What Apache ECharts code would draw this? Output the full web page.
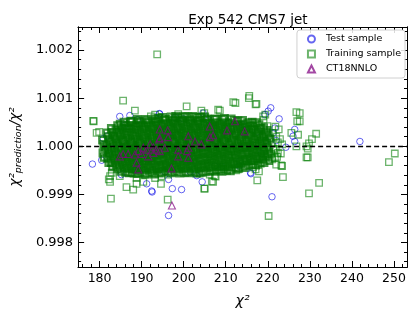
<!DOCTYPE html>
<html>
<head>
<meta charset="utf-8">
<script src="https://cdn.jsdelivr.net/npm/echarts@6/dist/echarts.min.js"></script>
<style>html,body{margin:0;padding:0;background:#fff}#c{width:420px;height:315px}</style>
</head>
<body>
<div id="c"></div>
<script>
var titleText = 'Exp 542 CMS7 jet';
var seriesNames = ['Test sample', 'Training sample', 'CT18NNLO'];
var xTicks = [180, 190, 200, 210, 220, 230, 240, 250];
var xMinor = [176, 178, 182, 184, 186, 188, 192, 194, 196, 198, 202, 204, 206, 208, 212, 214, 216, 218, 222, 224, 226, 228, 232, 234, 236, 238, 242, 244, 246, 248, 252];
var yTicks = [0.998, 0.999, 1.000, 1.001, 1.002];
var yMinor = [0.9976, 0.9978, 0.9982, 0.9984, 0.9986, 0.9988, 0.9992, 0.9994, 0.9996, 0.9998, 1.0002, 1.0004, 1.0006, 1.0008, 1.0012, 1.0014, 1.0016, 1.0018, 1.0022, 1.0024];
var xRange = [174.9, 253.1];
var yRange = [0.99749, 1.00248];
var refLine = 1.0;

var testSample = [
[184.8,1.00062],[187.2,1.00064],[194.3,1.00067],[178.3,0.99963],[180.5,0.99971],[180.9,1.00016],[185.2,0.99941],[191.2,0.99922],[192.5,0.99905],[197.3,0.99912],[199.5,0.99910],[204.4,0.99926],[201.5,0.99947],[202.7,0.99943],[207.4,0.99959],[213.3,0.99969],[213.2,0.99959],[216.0,0.99943],[221.0,0.99895],[220.7,1.00080],[220.1,1.00073],[222.7,1.00057],[221.7,1.00038],[221.3,1.00028],[226.4,1.00035],[226.0,1.00021],[226.4,1.00010],[219.3,1.00066],[199.9,1.00057],[204.6,1.00069],[186.0,1.00044],[181.7,1.00021],[196.4,0.99856],[192.4,0.99907],[241.9,1.00010],[215.9,0.99945],[203.1,0.99939],[196.4,0.99931],[194.2,1.00068],
[189.0,1.00055],[198.0,1.00060],[206.0,1.00055],[210.5,1.00050],[214.0,1.00045],[217.5,1.00030],[218.5,0.99985],[188.5,0.99950],[195.5,0.99947],[209.0,0.99958],[183.5,0.99995],[182.0,0.99985],[222.0,1.00012],[224.3,0.99998],[219.5,1.00012]
];

// dense core of the training sample
var trainingCore = [
[181.1,0.99977],[180.8,0.99986],[181.3,0.99995],[181.0,1.00004],[180.7,1.00013],
[182.2,0.99966],[181.9,0.99975],[182.3,0.99984],[182.0,0.99993],[181.7,1.00002],[182.4,1.00011],[182.1,1.00020],[181.8,1.00028],
[183.1,0.99957],[182.8,0.99966],[183.3,0.99975],[183.0,0.99984],[182.7,0.99993],[183.2,1.00002],[182.9,1.00011],[183.4,1.00020],[183.0,1.00029],[182.8,1.00037],
[184.2,0.99953],[183.9,0.99962],[184.3,0.99971],[184.0,0.99980],[183.7,0.99989],[184.4,0.99998],[184.1,1.00007],[183.8,1.00016],[184.2,1.00025],[183.9,1.00034],[184.3,1.00043],
[185.1,0.99948],[184.8,0.99957],[185.3,0.99966],[185.0,0.99975],[184.7,0.99984],[185.2,0.99993],[184.9,1.00002],[185.4,1.00011],[185.0,1.00020],[184.8,1.00029],[185.2,1.00038],[184.9,1.00046],
[186.2,0.99946],[185.9,0.99955],[186.3,0.99964],[186.0,0.99973],[185.7,0.99982],[186.4,0.99991],[186.1,1.00000],[185.8,1.00009],[186.2,1.00018],[185.9,1.00027],[186.3,1.00036],[186.0,1.00044],[185.8,1.00050],
[187.1,0.99945],[186.8,0.99954],[187.3,0.99963],[187.0,0.99972],[186.7,0.99981],[187.2,0.99990],[186.9,0.99999],[187.4,1.00008],[187.0,1.00017],[186.8,1.00026],[187.2,1.00035],[186.9,1.00043],[187.3,1.00051],
[188.2,0.99944],[187.9,0.99953],[188.3,0.99962],[188.0,0.99971],[187.7,0.99980],[188.4,0.99989],[188.1,0.99998],[187.8,1.00007],[188.2,1.00016],[187.9,1.00025],[188.3,1.00034],[188.0,1.00043],[187.7,1.00052],
[189.1,0.99943],[188.8,0.99952],[189.3,0.99961],[189.0,0.99970],[188.7,0.99979],[189.2,0.99988],[188.9,0.99997],[189.4,1.00006],[189.0,1.00015],[188.8,1.00024],[189.2,1.00033],[188.9,1.00042],[189.3,1.00050],[189.0,1.00056],
[190.2,0.99945],[189.9,0.99954],[190.3,0.99963],[190.0,0.99972],[189.7,0.99981],[190.4,0.99990],[190.1,0.99999],[189.8,1.00008],[190.2,1.00017],[189.9,1.00026],[190.3,1.00035],[190.0,1.00044],[189.7,1.00053],
[191.1,0.99942],[190.8,0.99951],[191.3,0.99960],[191.0,0.99969],[190.7,0.99978],[191.2,0.99987],[190.9,0.99996],[191.4,1.00005],[191.0,1.00014],[190.8,1.00023],[191.2,1.00032],[190.9,1.00041],[191.3,1.00049],[191.0,1.00056],
[192.2,0.99945],[191.9,0.99954],[192.3,0.99963],[192.0,0.99972],[191.7,0.99981],[192.4,0.99990],[192.1,0.99999],[191.8,1.00008],[192.2,1.00017],[191.9,1.00026],[192.3,1.00035],[192.0,1.00044],[191.7,1.00053],
[193.1,0.99942],[192.8,0.99951],[193.3,0.99960],[193.0,0.99969],[192.7,0.99978],[193.2,0.99987],[192.9,0.99996],[193.4,1.00005],[193.0,1.00014],[192.8,1.00023],[193.2,1.00032],[192.9,1.00041],[193.3,1.00050],[193.0,1.00057],
[194.2,0.99944],[193.9,0.99953],[194.3,0.99962],[194.0,0.99971],[193.7,0.99980],[194.4,0.99989],[194.1,0.99998],[193.8,1.00007],[194.2,1.00016],[193.9,1.00025],[194.3,1.00034],[194.0,1.00043],[193.7,1.00052],[194.1,1.00058],
[195.1,0.99946],[194.8,0.99955],[195.3,0.99964],[195.0,0.99973],[194.7,0.99982],[195.2,0.99991],[194.9,1.00000],[195.4,1.00009],[195.0,1.00018],[194.8,1.00027],[195.2,1.00036],[194.9,1.00045],[195.3,1.00054],[195.0,1.00060],
[196.2,0.99948],[195.9,0.99957],[196.3,0.99966],[196.0,0.99975],[195.7,0.99984],[196.4,0.99993],[196.1,1.00002],[195.8,1.00011],[196.2,1.00020],[195.9,1.00029],[196.3,1.00038],[196.0,1.00047],[195.7,1.00056],
[197.1,0.99945],[196.8,0.99954],[197.3,0.99963],[197.0,0.99972],[196.7,0.99981],[197.2,0.99990],[196.9,0.99999],[197.4,1.00008],[197.0,1.00017],[196.8,1.00026],[197.2,1.00035],[196.9,1.00044],[197.3,1.00053],[197.0,1.00061],
[198.2,0.99947],[197.9,0.99956],[198.3,0.99965],[198.0,0.99974],[197.7,0.99983],[198.4,0.99992],[198.1,1.00001],[197.8,1.00010],[198.2,1.00019],[197.9,1.00028],[198.3,1.00037],[198.0,1.00046],[197.7,1.00055],[198.1,1.00062],
[199.1,0.99944],[198.8,0.99953],[199.3,0.99962],[199.0,0.99971],[198.7,0.99980],[199.2,0.99989],[198.9,0.99998],[199.4,1.00007],[199.0,1.00016],[198.8,1.00025],[199.2,1.00034],[198.9,1.00043],[199.3,1.00052],[199.0,1.00060],
[200.2,0.99946],[199.9,0.99955],[200.3,0.99964],[200.0,0.99973],[199.7,0.99982],[200.4,0.99991],[200.1,1.00000],[199.8,1.00009],[200.2,1.00018],[199.9,1.00027],[200.3,1.00036],[200.0,1.00045],[199.7,1.00054],[200.1,1.00062],
[201.1,0.99945],[200.8,0.99954],[201.3,0.99963],[201.0,0.99972],[200.7,0.99981],[201.2,0.99990],[200.9,0.99999],[201.4,1.00008],[201.0,1.00017],[200.8,1.00026],[201.2,1.00035],[200.9,1.00044],[201.3,1.00053],[201.0,1.00061],
[202.2,0.99947],[201.9,0.99956],[202.3,0.99965],[202.0,0.99974],[201.7,0.99983],[202.4,0.99992],[202.1,1.00001],[201.8,1.00010],[202.2,1.00019],[201.9,1.00028],[202.3,1.00037],[202.0,1.00046],[201.7,1.00055],[202.1,1.00062],
[203.1,0.99944],[202.8,0.99953],[203.3,0.99962],[203.0,0.99971],[202.7,0.99980],[203.2,0.99989],[202.9,0.99998],[203.4,1.00007],[203.0,1.00016],[202.8,1.00025],[203.2,1.00034],[202.9,1.00043],[203.3,1.00052],[203.0,1.00060],
[204.2,0.99946],[203.9,0.99955],[204.3,0.99964],[204.0,0.99973],[203.7,0.99982],[204.4,0.99991],[204.1,1.00000],[203.8,1.00009],[204.2,1.00018],[203.9,1.00027],[204.3,1.00036],[204.0,1.00045],[203.7,1.00054],[204.1,1.00061],
[205.1,0.99947],[204.8,0.99956],[205.3,0.99965],[205.0,0.99974],[204.7,0.99983],[205.2,0.99992],[204.9,1.00001],[205.4,1.00010],[205.0,1.00019],[204.8,1.00028],[205.2,1.00037],[204.9,1.00046],[205.3,1.00055],[205.0,1.00061],
[206.2,0.99949],[205.9,0.99958],[206.3,0.99967],[206.0,0.99976],[205.7,0.99985],[206.4,0.99994],[206.1,1.00003],[205.8,1.00012],[206.2,1.00021],[205.9,1.00030],[206.3,1.00039],[206.0,1.00048],[205.7,1.00057],
[207.1,0.99948],[206.8,0.99957],[207.3,0.99966],[207.0,0.99975],[206.7,0.99984],[207.2,0.99993],[206.9,1.00002],[207.4,1.00011],[207.0,1.00020],[206.8,1.00029],[207.2,1.00038],[206.9,1.00047],[207.3,1.00056],
[208.2,0.99950],[207.9,0.99959],[208.3,0.99968],[208.0,0.99977],[207.7,0.99986],[208.4,0.99995],[208.1,1.00004],[207.8,1.00013],[208.2,1.00022],[207.9,1.00031],[208.3,1.00040],[208.0,1.00049],[207.7,1.00057],
[209.1,0.99948],[208.8,0.99957],[209.3,0.99966],[209.0,0.99975],[208.7,0.99984],[209.2,0.99993],[208.9,1.00002],[209.4,1.00011],[209.0,1.00020],[208.8,1.00029],[209.2,1.00038],[208.9,1.00047],[209.3,1.00056],
[210.2,0.99950],[209.9,0.99959],[210.3,0.99968],[210.0,0.99977],[209.7,0.99986],[210.4,0.99995],[210.1,1.00004],[209.8,1.00013],[210.2,1.00022],[209.9,1.00031],[210.3,1.00040],[210.0,1.00049],[209.7,1.00058],
[211.1,0.99949],[210.8,0.99958],[211.3,0.99967],[211.0,0.99976],[210.7,0.99985],[211.2,0.99994],[210.9,1.00003],[211.4,1.00012],[211.0,1.00021],[210.8,1.00030],[211.2,1.00039],[210.9,1.00048],[211.3,1.00057],
[212.2,0.99955],[211.9,0.99964],[212.3,0.99973],[212.0,0.99982],[211.7,0.99991],[212.4,1.00000],[212.1,1.00009],[211.8,1.00018],[212.2,1.00027],[211.9,1.00036],[212.3,1.00045],[212.0,1.00054],
[213.1,0.99954],[212.8,0.99963],[213.3,0.99972],[213.0,0.99981],[212.7,0.99990],[213.2,0.99999],[212.9,1.00008],[213.4,1.00017],[213.0,1.00026],[212.8,1.00035],[213.2,1.00044],[212.9,1.00053],
[214.2,0.99956],[213.9,0.99965],[214.3,0.99974],[214.0,0.99983],[213.7,0.99992],[214.4,1.00001],[214.1,1.00010],[213.8,1.00019],[214.2,1.00028],[213.9,1.00037],[214.3,1.00046],[214.0,1.00054],
[215.1,0.99960],[214.8,0.99969],[215.3,0.99978],[215.0,0.99987],[214.7,0.99996],[215.2,1.00005],[214.9,1.00014],[215.4,1.00023],[215.0,1.00032],[214.8,1.00041],[215.2,1.00049],
[216.2,0.99962],[215.9,0.99971],[216.3,0.99980],[216.0,0.99989],[215.7,0.99998],[216.4,1.00007],[216.1,1.00016],[215.8,1.00025],[216.2,1.00034],[215.9,1.00043],[216.3,1.00050],
[217.1,0.99961],[216.8,0.99970],[217.3,0.99979],[217.0,0.99988],[216.7,0.99997],[217.2,1.00006],[216.9,1.00015],[217.4,1.00024],[217.0,1.00033],[216.8,1.00042],[217.2,1.00049],
[218.2,0.99965],[217.9,0.99974],[218.3,0.99983],[218.0,0.99992],[217.7,1.00001],[218.4,1.00010],[218.1,1.00019],[217.8,1.00028],[218.2,1.00037],[217.9,1.00045],
[219.1,0.99966],[218.8,0.99975],[219.3,0.99984],[219.0,0.99993],[218.7,1.00002],[219.2,1.00011],[218.9,1.00020],[219.4,1.00029],[219.0,1.00038],
[220.2,0.99970],[219.9,0.99979],[220.3,0.99988],[220.0,0.99997],[219.7,1.00006],[220.4,1.00015],[220.1,1.00024],[219.8,1.00033]
];

// scattered training points around the core
var trainingOuter = [
[221.1,0.99973],[220.8,0.99984],[221.3,0.99995],[221.0,1.00006],[220.7,1.00017],[221.2,1.00028],
[222.2,0.99978],[221.9,0.99992],[222.4,1.00008],[222.0,1.00020],
[223.1,0.99985],[223.4,1.00004],[222.9,1.00015],
[185.6,1.00095],[188.4,1.00074],[178.5,1.00053],[179.3,1.00028],[179.9,1.00030],[182.5,0.99938],[182.5,0.99926],[182.7,0.99891],[186.4,0.99915],[188.0,0.99910],[196.2,0.99889],[194.6,0.99922],[200.7,1.00083],[204.9,1.00069],[208.6,1.00074],[211.8,1.00092],[215.5,1.00100],[217.3,1.00088],[218.9,1.00062],[219.9,1.00042],
[226.8,1.00071],[227.6,1.00069],[227.6,1.00052],[225.6,1.00028],[227.2,1.00024],[229.2,1.00000],[229.2,0.99977],[226.8,1.00000],[221.7,0.99976],[222.4,0.99986],[222.0,0.99962],[223.2,0.99960],[223.6,0.99936],[218.9,0.99972],[217.7,0.99962],[216.5,0.99956],[211.4,0.99952],[207.4,0.99938],[207.0,0.99926],[205.0,0.99912],[203.8,0.99943],[190.4,0.99926],[190.8,0.99941],[188.8,0.99922],[184.8,0.99938],
[250.2,0.99985],[248.8,0.99967],[232.2,0.99924],[229.8,0.99902],[231.5,1.00026],[230.5,1.00015],[229.8,1.00006],[229.5,0.99995],[229.5,0.99977],
[220.2,0.99855],[223.4,0.99959],[217.9,0.99948],[217.5,0.99929],[204.9,0.99912],[206.7,0.99927],[207.6,0.99937],[209.5,0.99953],
[193.7,1.00191],[215.6,1.00105],[192.2,1.00062],[178.6,1.00052],[182.2,0.99931],
[227.0,1.00052],[221.0,0.99976],[221.4,0.99993],[219.8,1.00007],[219.1,0.99990],[217.1,0.99952],[222.6,1.00035],[221.8,1.00041],[219.4,1.00066],[219.0,1.00055],[217.1,1.00087],[212.9,0.99952],[214.7,0.99955],[212.3,1.00090],
[193.2,1.00066],[194.0,1.00060],[197.9,1.00059],[198.7,1.00067],[204.2,1.00074],[208.2,1.00076],
[193.2,0.99934],[194.7,0.99938],[196.3,0.99941],[206.2,0.99941],[209.0,0.99952],[212.5,0.99950],[187.6,0.99945],[188.8,0.99934],[182.9,0.99945]
];

var ct18 = [
[194.3,1.00035],[196.2,1.00033],[194.3,1.00017],[196.3,1.00019],[192.0,1.00004],[192.8,0.99998],[193.5,0.99993],[191.2,0.99993],[192.8,0.99986],[194.3,0.99990],[191.6,0.99979],[189.2,0.99990],[188.4,0.99983],[185.6,0.99984],[184.8,0.99979],[188.8,0.99966],[197.1,0.99954],[189.2,0.99952],[198.7,0.99993],[201.1,0.99997],[201.1,1.00021],[202.7,1.00010],[204.2,1.00004],[206.2,1.00041],[206.2,1.00019],[207.0,1.00023],[212.2,1.00052],[214.5,1.00031],[201.1,0.99976],[198.7,0.99979],[195.5,0.99997],[190.4,0.99997],[186.8,0.99984],[190.0,0.99984],[197.2,0.99877],[210.3,1.00033],[200.8,0.99990],[194.2,1.00014]
];

var chart = echarts.init(document.getElementById('c'), null, {renderer: 'canvas'});
var FONT = 'DejaVu Sans';
var gridL = 77, gridR = 13, gridT = 27, gridB = 48;

function xAx(pos, vals, len, labels) {
  return {
    type: 'value', position: pos, min: xRange[0], max: xRange[1],
    axisLine: {show: true, onZero: false, lineStyle: {color: '#000', width: 1}},
    axisTick: {show: true, inside: true, length: len, customValues: vals, lineStyle: {color: '#000', width: 1}},
    axisLabel: labels ? {show: true, customValues: xTicks, color: '#000', fontFamily: FONT, fontSize: 12.5, margin: 5} : {show: false},
    splitLine: {show: false}
  };
}
function yAx(pos, vals, len, labels) {
  return {
    type: 'value', position: pos, min: yRange[0], max: yRange[1],
    axisLine: {show: true, onZero: false, lineStyle: {color: '#000', width: 1}},
    axisTick: {show: true, inside: true, length: len, customValues: vals, lineStyle: {color: '#000', width: 1}},
    axisLabel: labels ? {show: true, customValues: yTicks, color: '#000', fontFamily: FONT, fontSize: 13, margin: 5,
      formatter: function (v) { return v.toFixed(3); }} : {show: false},
    splitLine: {show: false}
  };
}

var xAxes = [xAx('bottom', xTicks, 6, true), xAx('bottom', xMinor, 3, false), xAx('top', xTicks, 6, false), xAx('top', xMinor, 3, false)];
xAxes[0].name = '{i|χ²}';
xAxes[0].nameLocation = 'middle';
xAxes[0].nameGap = 27;
xAxes[0].nameTextStyle = {rich: {i: {fontFamily: FONT, fontSize: 14, fontStyle: 'italic', color: '#000'}}};
var yAxes = [yAx('left', yTicks, 6, true), yAx('left', yMinor, 3, false), yAx('right', yTicks, 6, false), yAx('right', yMinor, 3, false)];
yAxes[0].name = '{i|χ²}{sb|prediction}{i|/χ²}';
yAxes[0].nameLocation = 'middle';
yAxes[0].nameGap = 52;
yAxes[0].nameTextStyle = {rich: {
  i: {fontFamily: FONT, fontSize: 13.5, fontStyle: 'italic', color: '#000', lineHeight: 20, verticalAlign: 'middle'},
  sb: {fontFamily: FONT, fontSize: 9.5, fontStyle: 'italic', color: '#000', lineHeight: 20, verticalAlign: 'bottom', padding: [0, 0, 1, 0]}
}};

var greenEdge = 'rgba(0,125,0,0.72)';
chart.setOption({
  animation: false,
  backgroundColor: '#fff',
  title: {text: titleText, left: 243, top: 8, textAlign: 'center',
    textStyle: {fontFamily: FONT, fontSize: 13.5, fontWeight: 'normal', color: '#000'}},
  grid: {left: gridL, right: gridR, top: gridT, bottom: gridB},
  legend: {
    data: seriesNames, orient: 'vertical', right: 15, top: 30,
    itemWidth: 7, itemHeight: 7, itemGap: 5,
    backgroundColor: 'rgba(255,255,255,0.85)', borderColor: '#d0d0d0', borderWidth: 1, borderRadius: 3,
    padding: [4, 4, 4, 10],
    textStyle: {fontFamily: FONT, fontSize: 9.5, color: '#000', padding: [0, 0, 0, 6]}
  },
  xAxis: xAxes,
  yAxis: yAxes,
  series: [
    {name: seriesNames[0], type: 'scatter', xAxisIndex: 0, yAxisIndex: 0, data: testSample, symbol: 'circle', symbolSize: 6.5,
      itemStyle: {color: 'rgba(0,0,0,0)', borderColor: 'rgba(0,0,230,0.75)', borderWidth: 1}, z: 2},
    {name: seriesNames[1], type: 'scatter', xAxisIndex: 0, yAxisIndex: 0, data: trainingOuter, symbol: 'rect', symbolSize: 6.5,
      itemStyle: {color: 'rgba(0,0,0,0)', borderColor: greenEdge, borderWidth: 1.3}, z: 3},
    {name: seriesNames[1], type: 'scatter', xAxisIndex: 0, yAxisIndex: 0, data: trainingCore, symbol: 'rect', symbolSize: 6.5,
      itemStyle: {color: 'rgba(0,0,0,0)', borderColor: 'rgba(0,112,0,0.92)', borderWidth: 2.3}, z: 3},
    {name: seriesNames[2], type: 'scatter', xAxisIndex: 0, yAxisIndex: 0, data: ct18, symbol: 'triangle', symbolSize: 7,
      itemStyle: {color: 'rgba(0,0,0,0)', borderColor: 'rgba(128,0,128,0.9)', borderWidth: 1.1}, z: 4,
      markLine: {silent: true, symbol: 'none', label: {show: false},
        lineStyle: {color: '#000', type: [5, 3], width: 1.3},
        data: [{yAxis: refLine}]}}
  ]
});
</script>
</body>
</html>
